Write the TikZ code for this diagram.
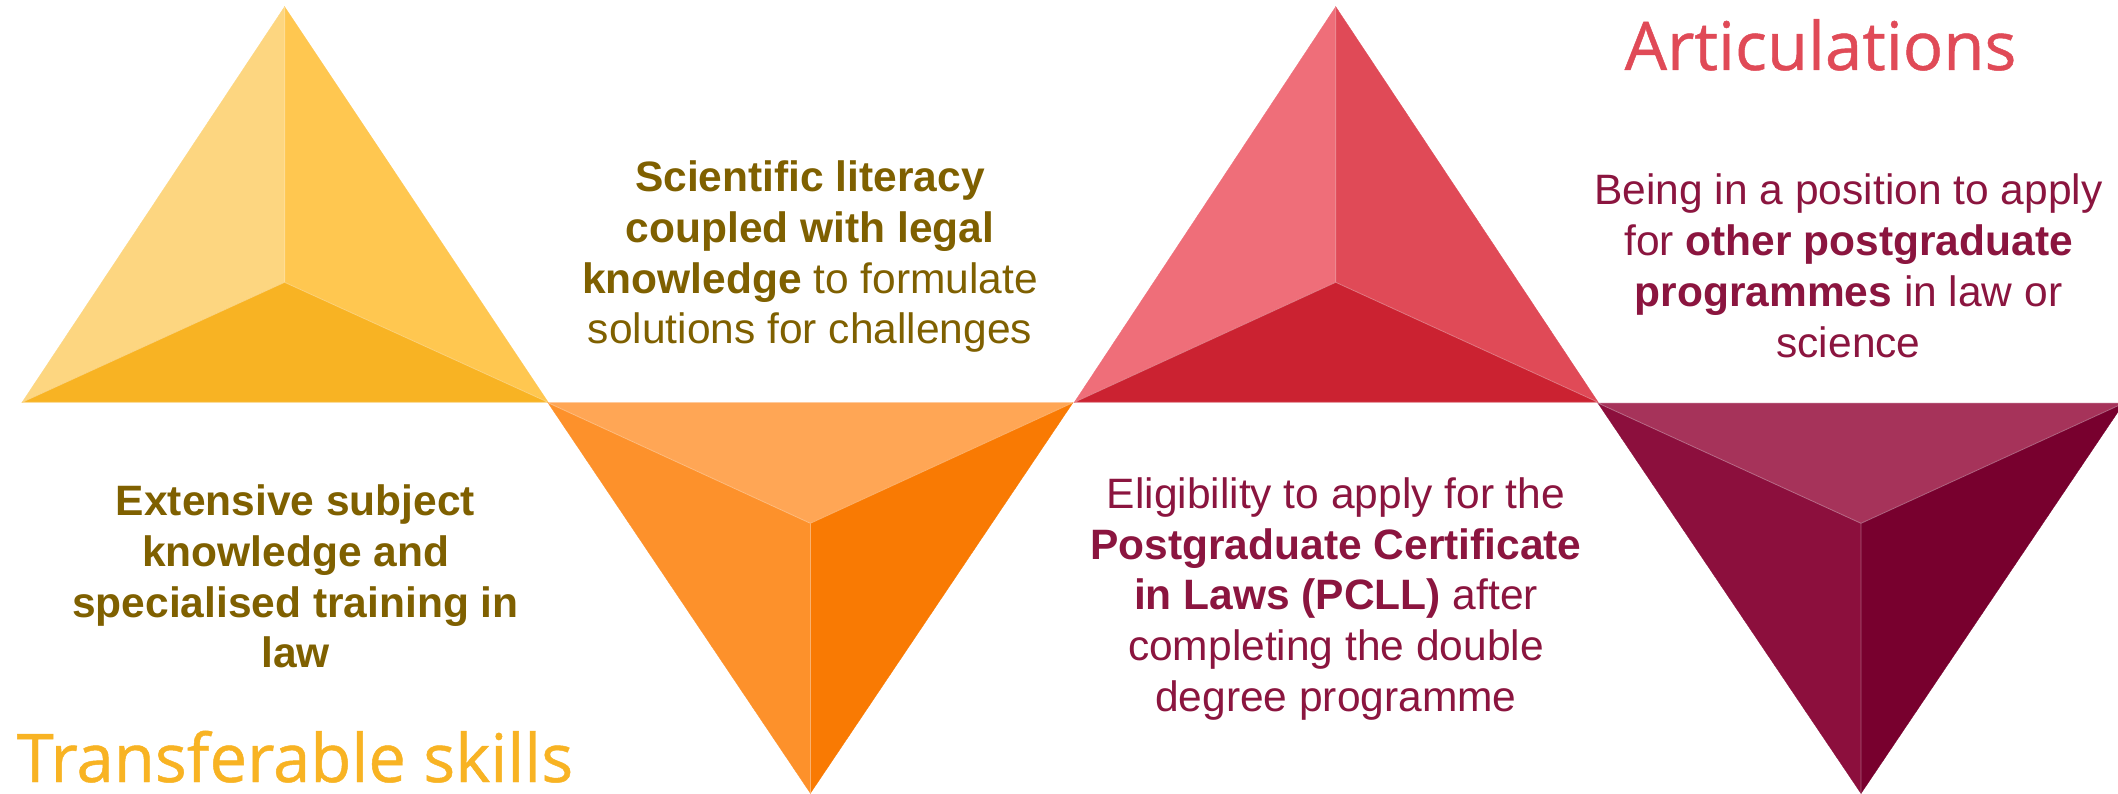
\documentclass[tikz,border=0pt]{standalone}
\usepackage{fontspec}
\setmainfont{Liberation Sans}
\newfontfamily\titlefont[FakeBold=0.7]{Open Sans}
\definecolor{yA}{RGB}{253,214,128}
\definecolor{yB}{RGB}{255,199,80}
\definecolor{yC}{RGB}{248,179,35}
\definecolor{oA}{RGB}{255,166,85}
\definecolor{oB}{RGB}{253,145,43}
\definecolor{oC}{RGB}{249,122,3}
\definecolor{rA}{RGB}{239,110,121}
\definecolor{rB}{RGB}{224,74,87}
\definecolor{rC}{RGB}{203,34,49}
\definecolor{mA}{RGB}{166,51,90}
\definecolor{mB}{RGB}{140,15,61}
\definecolor{mC}{RGB}{120,0,46}
\definecolor{olive}{RGB}{127,96,0}
\definecolor{maroontxt}{RGB}{139,21,63}
\definecolor{titlered}{RGB}{224,74,87}
\definecolor{titleyellow}{RGB}{248,179,35}
\tikzset{
  face/.style={fill=#1, draw=#1, line width=0.3pt},
  seam/.style={draw=white, draw opacity=0.35, line width=0.8pt},
  bodytext/.style={inner sep=0pt, anchor=base, font=\fontsize{42.5}{50.7}\selectfont},
  titletext/.style={inner sep=0pt, anchor=base, font=\titlefont\fontsize{67}{80}\selectfont}
}
\begin{document}
\begin{tikzpicture}[x=1pt,y=-1pt]
\clip (0,0) rectangle (2118,794);
\fill[white] (0,0) rectangle (2118,794);
% triangle 1 (yellow, up)
\coordinate (A1) at (284.6,6.7);
\coordinate (L1) at (22.1,402.3);
\coordinate (R1) at (548.2,402.3);
\coordinate (C1) at (284.6,282.3);
\path[face=yA] (A1) -- (L1) -- (C1) -- cycle;
\path[face=yB] (A1) -- (C1) -- (R1) -- cycle;
\path[face=yC] (L1) -- (R1) -- (C1) -- cycle;
\draw[seam] (A1) -- (C1) (L1) -- (C1) -- (R1) (L1) -- (R1);
% triangle 2 (orange, down)
\coordinate (L2) at (547.9,402.7);
\coordinate (R2) at (1072.9,402.7);
\coordinate (C2) at (810.4,523.3);
\coordinate (B2) at (810.4,793.3);
\path[face=oA] (L2) -- (R2) -- (C2) -- cycle;
\path[face=oB] (L2) -- (C2) -- (B2) -- cycle;
\path[face=oC] (R2) -- (C2) -- (B2) -- cycle;
\draw[seam] (L2) -- (C2) -- (R2) (C2) -- (B2);
% triangle 3 (red, up)
\coordinate (A3) at (1335.7,6.7);
\coordinate (L3) at (1074.3,402.3);
\coordinate (R3) at (1598.2,402.3);
\coordinate (C3) at (1335.7,282.3);
\path[face=rA] (A3) -- (L3) -- (C3) -- cycle;
\path[face=rB] (A3) -- (C3) -- (R3) -- cycle;
\path[face=rC] (L3) -- (R3) -- (C3) -- cycle;
\draw[seam] (A3) -- (C3) (L3) -- (C3) -- (R3) (L3) -- (R3);
% triangle 4 (maroon, down)
\coordinate (L4) at (1597.8,403);
\coordinate (R4) at (2124,403);
\coordinate (C4) at (1861,523.3);
\coordinate (B4) at (1861,793.5);
\path[face=mA] (L4) -- (R4) -- (C4) -- cycle;
\path[face=mB] (L4) -- (C4) -- (B4) -- cycle;
\path[face=mC] (R4) -- (C4) -- (B4) -- cycle;
\draw[seam] (L4) -- (C4) -- (R4) (C4) -- (B4) (L4) -- (R4);
% titles
\node[titletext, text=titlered] (arttitle) at (1820.5,70) {Articulations};
\node[titletext, text=titleyellow] (tstitle) at (295,782) {Transferable skills};
% texts
\node[bodytext, text=olive] (sci) at (810,191.7) {\begin{tabular}[t]{@{}c@{}}
\textbf{Scientific literacy}\\
\textbf{coupled with legal}\\
\textbf{knowledge} to formulate\\
solutions for challenges
\end{tabular}};
\node[bodytext, text=olive] (ext) at (295.5,515.7) {\begin{tabular}[t]{@{}c@{}}
\textbf{Extensive subject}\\
\textbf{knowledge and}\\
\textbf{specialised training in}\\
\textbf{law}
\end{tabular}};
\node[bodytext, text=maroontxt] (elig) at (1336,508.3) {\begin{tabular}[t]{@{}c@{}}
Eligibility to apply for the\\
\textbf{Postgraduate Certificate}\\
\textbf{in Laws (PCLL)} after\\
completing the double\\
degree programme
\end{tabular}};
\node[bodytext, text=maroontxt] (being) at (1848.5,205) {\begin{tabular}[t]{@{}c@{}}
Being in a position to apply\\
for \textbf{other postgraduate}\\
\textbf{programmes} in law or\\
science
\end{tabular}};
\end{tikzpicture}
\end{document}
